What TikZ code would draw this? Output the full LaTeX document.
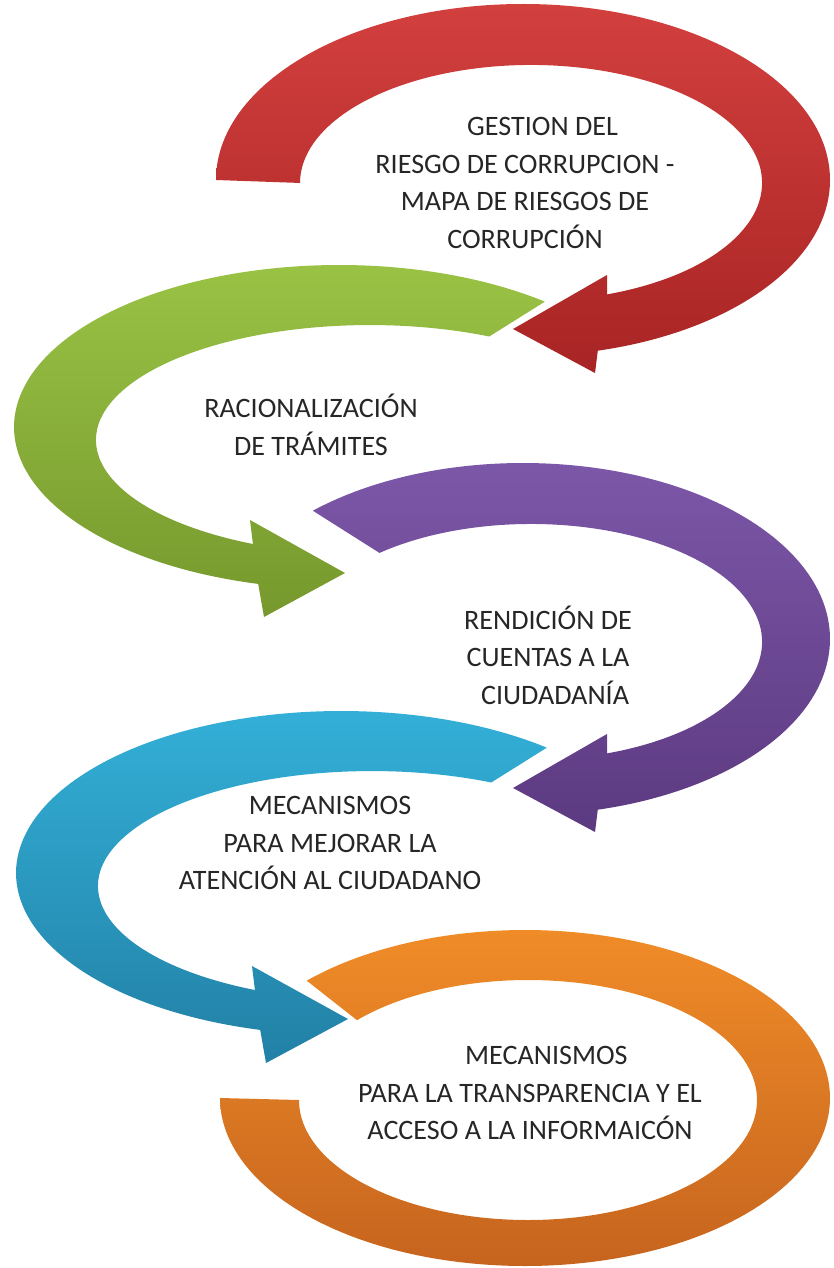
\documentclass[tikz,border=0pt]{standalone}
\usepackage{fontspec}
\setmainfont{Carlito}
\usepackage{xcolor}

\definecolor{rojoA}{RGB}{210,64,62}
\definecolor{rojoB}{RGB}{168,36,36}
\definecolor{verdeA}{RGB}{155,197,70}
\definecolor{verdeB}{RGB}{118,152,45}
\definecolor{moradoA}{RGB}{126,88,170}
\definecolor{moradoB}{RGB}{92,58,128}
\definecolor{cianA}{RGB}{52,178,218}
\definecolor{cianB}{RGB}{34,128,165}
\definecolor{naranjaA}{RGB}{242,142,40}
\definecolor{naranjaB}{RGB}{196,98,30}

\begin{document}
\begin{tikzpicture}[x=0.3mm,y=0.3mm,
    rojo/.style={top color=rojoA,bottom color=rojoB},
    verde/.style={top color=verdeA,bottom color=verdeB},
    morado/.style={top color=moradoA,bottom color=moradoB},
    cian/.style={top color=cianA,bottom color=cianB},
    naranja/.style={top color=naranjaA,bottom color=naranjaB},
    txt/.style={align=center,text=black!85,font=\fontsize{24}{32}\selectfont}]
            \useasboundingbox (0,0) rectangle (834,-1268);

            % Gestion del riesgo
            \path[rojo] (523,-180) ++(180:307 and 176) arc[start angle=180, end angle=-75.9, x radius=307, y radius=176]
                -- (595,-373) -- (513,-329) -- (607,-275) -- (607,-294.4)
                arc[start angle=-70.8, end angle=180, x radius=231, y radius=118] -- cycle;
            \node[txt] (gestion) at (525,-183) {\hspace*{30pt}GESTION DEL\\RIESGO DE CORRUPCION -\\MAPA DE RIESGOS DE\\CORRUPCIÓN};

            % Racionalizacion
            \path[verde] (339,-427) ++(50.7:325 and 162) arc[start angle=50.7, end angle=255.6, x radius=325, y radius=162]
                -- (264,-617) -- (345,-573) -- (250,-520) -- (252.9,-544)
                arc[start angle=244.7, end angle=64.2, x radius=274, y radius=115] -- cycle;
            \node[txt] (tramites) at (311,-425) {RACIONALIZACIÓN\\DE TRÁMITES};

            % Rendicion de cuentas
            \path[morado] (523,-639) ++(133.2:307 and 176) arc[start angle=133.2, end angle=-75.9, x radius=307, y radius=176]
                -- (595,-832) -- (513,-788) -- (607,-734) -- (607,-753.4)
                arc[start angle=-70.8, end angle=131, x radius=231, y radius=118] -- cycle;
            \node[txt] (rendicion) at (548,-655) {RENDICIÓN DE\\CUENTAS A LA\\\hspace*{12pt}CIUDADANÍA};

            % Atencion al ciudadano
            \path[cian] (341,-873) ++(50.7:325 and 162) arc[start angle=50.7, end angle=255.6, x radius=325, y radius=162]
                -- (266,-1063) -- (348,-1019) -- (252,-966) -- (254.9,-990)
                arc[start angle=244.7, end angle=64.2, x radius=274, y radius=115] -- cycle;
            \node[txt] (atencion) at (330,-843) {MECANISMOS\\PARA MEJORAR LA\\ATENCIÓN AL CIUDADANO};

            % Transparencia y acceso
            \path[naranja] (525,-1098) ++(135.7:305 and 168) arc[start angle=135.7, end angle=-180, x radius=305, y radius=168]
                -- (299,-1100) arc[start angle=-180, end angle=138.3, x radius=229, y radius=120] -- cycle;
            \node[txt] (transparencia) at (530,-1093) {\hspace*{28pt}MECANISMOS\\PARA LA TRANSPARENCIA Y EL\\ACCESO A LA INFORMAICÓN};
        \end{tikzpicture}
\end{document}
